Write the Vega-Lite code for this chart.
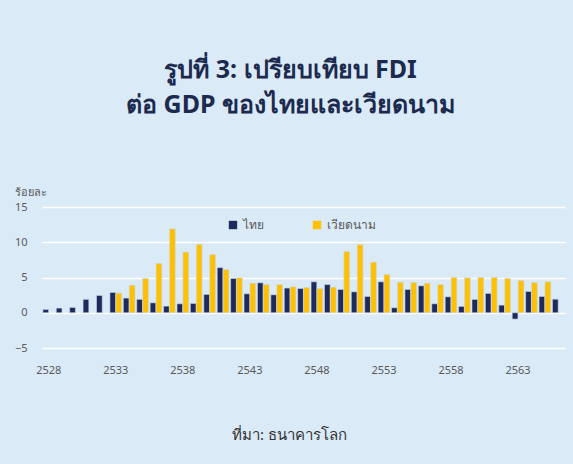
{
  "$schema": "https://vega.github.io/schema/vega-lite/v6.json",
  "width": 523,
  "height": 141,
  "autosize": {"type": "none"},
  "padding": {"left": 42, "top": 207, "right": 8, "bottom": 116},
  "background": "#dbeaf7",
  "title": {
    "text": ["รูปที่ 3: เปรียบเทียบ FDI", "ต่อ GDP ของไทยและเวียดนาม"],
    "font": "Noto Sans",
    "fontSize": 25,
    "fontWeight": "bold",
    "color": "#1b2a4e",
    "lineHeight": 35,
    "anchor": "middle",
    "frame": "group",
    "dx": -13,
    "offset": 68
  },
  "config": {
    "view": {"stroke": null},
    "font": "Noto Sans",
    "axis": {"labelFont": "Noto Sans", "titleFont": "Noto Sans"},
    "legend": {"labelFont": "Noto Sans"}
  },
  "data": {
    "values": [
      {"year": 2528, "country": "ไทย", "value": 0.47},
      {"year": 2529, "country": "ไทย", "value": 0.66},
      {"year": 2530, "country": "ไทย", "value": 0.75},
      {"year": 2531, "country": "ไทย", "value": 1.9},
      {"year": 2532, "country": "ไทย", "value": 2.45},
      {"year": 2533, "country": "ไทย", "value": 2.88},
      {"year": 2534, "country": "ไทย", "value": 2.08},
      {"year": 2535, "country": "ไทย", "value": 1.9},
      {"year": 2536, "country": "ไทย", "value": 1.41},
      {"year": 2537, "country": "ไทย", "value": 0.94},
      {"year": 2538, "country": "ไทย", "value": 1.27},
      {"year": 2539, "country": "ไทย", "value": 1.32},
      {"year": 2540, "country": "ไทย", "value": 2.6},
      {"year": 2541, "country": "ไทย", "value": 6.4},
      {"year": 2542, "country": "ไทย", "value": 4.86},
      {"year": 2543, "country": "ไทย", "value": 2.69},
      {"year": 2544, "country": "ไทย", "value": 4.25},
      {"year": 2545, "country": "ไทย", "value": 2.55},
      {"year": 2546, "country": "ไทย", "value": 3.5},
      {"year": 2547, "country": "ไทย", "value": 3.44},
      {"year": 2548, "country": "ไทย", "value": 4.39},
      {"year": 2549, "country": "ไทย", "value": 4.0},
      {"year": 2550, "country": "ไทย", "value": 3.3},
      {"year": 2551, "country": "ไทย", "value": 2.97},
      {"year": 2552, "country": "ไทย", "value": 2.31},
      {"year": 2553, "country": "ไทย", "value": 4.39},
      {"year": 2554, "country": "ไทย", "value": 0.71},
      {"year": 2555, "country": "ไทย", "value": 3.3},
      {"year": 2556, "country": "ไทย", "value": 3.82},
      {"year": 2557, "country": "ไทย", "value": 1.27},
      {"year": 2558, "country": "ไทย", "value": 2.26},
      {"year": 2559, "country": "ไทย", "value": 0.9},
      {"year": 2560, "country": "ไทย", "value": 1.89},
      {"year": 2561, "country": "ไทย", "value": 2.74},
      {"year": 2562, "country": "ไทย", "value": 1.08},
      {"year": 2563, "country": "ไทย", "value": -0.9},
      {"year": 2564, "country": "ไทย", "value": 3.02},
      {"year": 2565, "country": "ไทย", "value": 2.31},
      {"year": 2566, "country": "ไทย", "value": 1.93},
      {"year": 2533, "country": "เวียดนาม", "value": 2.78},
      {"year": 2534, "country": "เวียดนาม", "value": 3.9},
      {"year": 2535, "country": "เวียดนาม", "value": 4.86},
      {"year": 2536, "country": "เวียดนาม", "value": 7.0},
      {"year": 2537, "country": "เวียดนาม", "value": 11.9},
      {"year": 2538, "country": "เวียดนาม", "value": 8.6},
      {"year": 2539, "country": "เวียดนาม", "value": 9.7},
      {"year": 2540, "country": "เวียดนาม", "value": 8.25},
      {"year": 2541, "country": "เวียดนาม", "value": 6.13},
      {"year": 2542, "country": "เวียดนาม", "value": 4.95},
      {"year": 2543, "country": "เวียดนาม", "value": 4.2},
      {"year": 2544, "country": "เวียดนาม", "value": 4.0},
      {"year": 2545, "country": "เวียดนาม", "value": 4.0},
      {"year": 2546, "country": "เวียดนาม", "value": 3.68},
      {"year": 2547, "country": "เวียดนาม", "value": 3.58},
      {"year": 2548, "country": "เวียดนาม", "value": 3.44},
      {"year": 2549, "country": "เวียดนาม", "value": 3.63},
      {"year": 2550, "country": "เวียดนาม", "value": 8.68},
      {"year": 2551, "country": "เวียดนาม", "value": 9.67},
      {"year": 2552, "country": "เวียดนาม", "value": 7.17},
      {"year": 2553, "country": "เวียดนาม", "value": 5.42},
      {"year": 2554, "country": "เวียดนาม", "value": 4.34},
      {"year": 2555, "country": "เวียดนาม", "value": 4.29},
      {"year": 2556, "country": "เวียดนาม", "value": 4.2},
      {"year": 2557, "country": "เวียดนาม", "value": 4.0},
      {"year": 2558, "country": "เวียดนาม", "value": 5.0},
      {"year": 2559, "country": "เวียดนาม", "value": 4.95},
      {"year": 2560, "country": "เวียดนาม", "value": 5.0},
      {"year": 2561, "country": "เวียดนาม", "value": 5.0},
      {"year": 2562, "country": "เวียดนาม", "value": 4.86},
      {"year": 2563, "country": "เวียดนาม", "value": 4.58},
      {"year": 2564, "country": "เวียดนาม", "value": 4.29},
      {"year": 2565, "country": "เวียดนาม", "value": 4.39}
    ]
  },
  "mark": {"type": "bar", "stroke": "#c9d6ea", "strokeWidth": 0.6},
  "encoding": {
    "x": {
      "field": "year",
      "type": "ordinal",
      "scale": {"paddingInner": 0.13, "paddingOuter": 0.065},
      "axis": {
        "values": [2528, 2533, 2538, 2543, 2548, 2553, 2558, 2563],
        "labelAngle": 0,
        "labelColor": "#595959",
        "labelFontSize": 11,
        "labelPadding": 16,
        "domain": false,
        "ticks": false,
        "title": "ที่มา: ธนาคารโลก",
        "titleFontSize": 15,
        "titleFontWeight": "normal",
        "titleColor": "#333333",
        "titleX": 247,
        "titleY": 86,
        "titleAlign": "center",
        "titleBaseline": "middle",
        "titleAnchor": null
      }
    },
    "xOffset": {
      "field": "country",
      "type": "nominal",
      "sort": ["ไทย", "เวียดนาม"],
      "scale": {"paddingInner": 0.04}
    },
    "y": {
      "field": "value",
      "type": "quantitative",
      "scale": {"domain": [-5, 15], "nice": false, "zero": false},
      "axis": {
        "values": [-5, 0, 5, 10, 15],
        "grid": true,
        "gridColor": "#ffffff",
        "gridWidth": 1.5,
        "domain": false,
        "ticks": false,
        "labelColor": "#595959",
        "labelFontSize": 11,
        "labelPadding": 15,
        "title": "ร้อยละ",
        "titleAngle": 0,
        "titleAlign": "left",
        "titleBaseline": "middle",
        "titleFontSize": 11,
        "titleFontWeight": "normal",
        "titleColor": "#595959",
        "titleX": -28,
        "titleY": -15
      }
    },
    "color": {
      "field": "country",
      "type": "nominal",
      "scale": {"domain": ["ไทย", "เวียดนาม"], "range": ["#1f2a5c", "#ffc000"]},
      "legend": {
        "title": null,
        "orient": "none",
        "direction": "horizontal",
        "legendX": 185,
        "legendY": 12,
        "padding": 0,
        "symbolType": "square",
        "symbolSize": 70,
        "symbolStrokeWidth": 0,
        "labelFontSize": 12,
        "labelColor": "#595959",
        "labelOffset": 4,
        "columnPadding": 47
      }
    }
  }
}
